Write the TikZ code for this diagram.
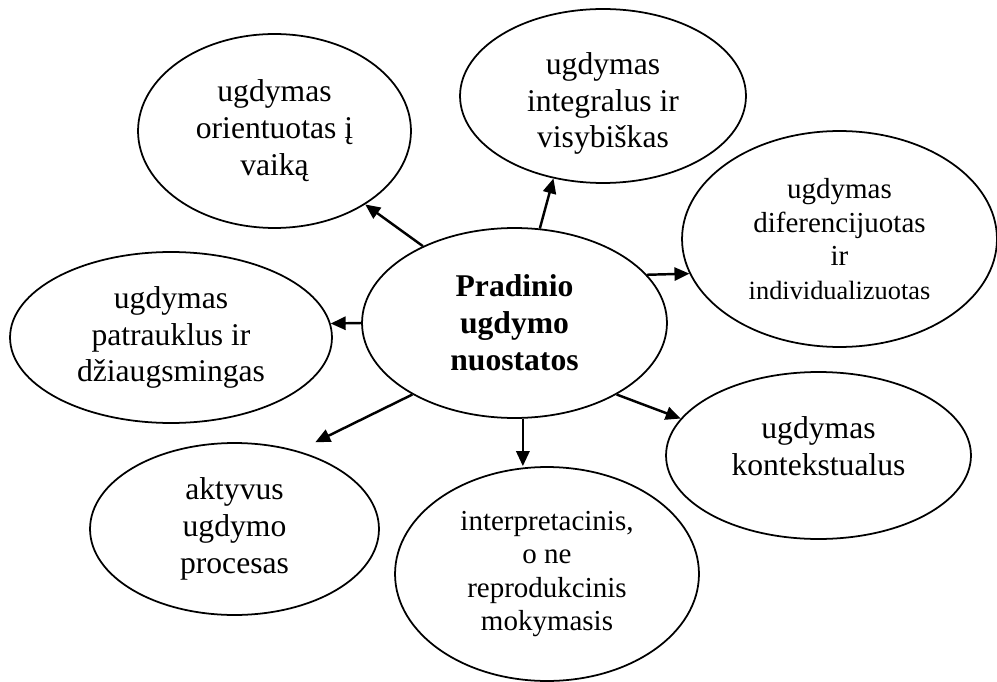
\documentclass[tikz,border=0pt]{standalone}
\usepackage{fontspec}
\setmainfont{Liberation Serif}
\usetikzlibrary{shapes.geometric}
\usetikzlibrary{arrows.meta}

\begin{document}
\begin{tikzpicture}[x=0.02cm,y=-0.02cm,
  bubble/.style={draw,ellipse,line width=1pt,inner sep=0pt,align=center,font=\fontsize{18}{21}\selectfont},
  smalltxt/.style={font=\fontsize{16.5}{19}\selectfont},
  arr/.style={line width=1.4pt,-{Triangle[length=8.5pt,width=7.5pt]}}]
 \useasboundingbox (0,0) rectangle (997,682);
 \node[bubble,font=\fontsize{18}{21}\selectfont\bfseries,minimum width=6.10cm,minimum height=3.80cm] (c) at (514.5,323) {Pradinio\\ugdymo\\nuostatos};
 \node[bubble,minimum width=5.46cm,minimum height=3.88cm] (tl) at (274.5,131) {ugdymas\\orientuotas į\\vaiką};
 \node[bubble,text height=63pt,minimum width=5.72cm,minimum height=3.48cm] (tc) at (603,96) {ugdymas\\integralus ir\\visybiškas};
 \node[bubble,smalltxt,minimum width=6.30cm,minimum height=4.32cm] (r) at (839.5,239) {ugdymas\\diferencijuotas\\ir\\{\fontsize{15}{19}\selectfont individualizuotas}};
 \node[bubble,minimum width=6.44cm,minimum height=3.42cm] (l) at (171,337.5) {ugdymas\\patrauklus ir\\džiaugsmingas};
 \node[bubble,text depth=11pt,minimum width=6.10cm,minimum height=3.34cm] (rb) at (818.5,455.5) {ugdymas\\kontekstualus};
 \node[bubble,smalltxt,minimum width=6.08cm,minimum height=4.28cm] (b) at (547,574) {interpretacinis,\\o ne\\reprodukcinis\\mokymasis};
 \node[bubble,minimum width=5.78cm,minimum height=3.44cm] (bl) at (234.5,529) {aktyvus\\ugdymo\\procesas};

 \draw[arr] (c.140.6) -- (tl.321.5);
 \draw[arr] (c.75.5) -- (tc.239.7);
 \draw[arr] (c.20) -- (r.193);
 \draw[arr] (c.180) -- (l.5);
 \draw[arr] (c.325.6) -- (rb.165.4);
 \draw[arr] (c.275) -- (c.275 |- b.north);
 \draw[arr,shorten >=0.39cm] (c.215) -- (bl.51);
\end{tikzpicture}
\end{document}
